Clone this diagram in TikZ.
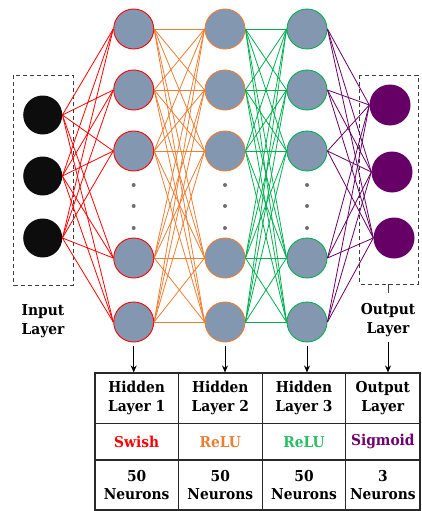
\documentclass[tikz,border=0pt]{standalone}
\usepackage{fontspec}
\setmainfont{DejaVu Serif}[FakeStretch=0.92]
\usetikzlibrary{arrows.meta}
\definecolor{nodegray}{RGB}{132,151,176}
\definecolor{cred}{RGB}{255,0,0}
\definecolor{corange}{RGB}{237,125,49}
\definecolor{cgreen}{RGB}{0,176,80}
\definecolor{ctgreen}{RGB}{40,190,100}
\definecolor{cpurple}{RGB}{102,0,102}
\definecolor{ctpurple}{RGB}{112,0,112}
\definecolor{cblack}{RGB}{13,13,13}
\definecolor{dotgray}{RGB}{110,110,120}
\definecolor{boxgray}{RGB}{60,60,60}
\definecolor{gridgray}{RGB}{40,40,40}
\tikzset{
  neuron/.style={circle,minimum size=40pt,inner sep=0pt,fill=nodegray,line width=0.9pt},
  inneuron/.style={circle,minimum size=39pt,inner sep=0pt,fill=cblack},
  outneuron/.style={circle,minimum size=41pt,inner sep=0pt,fill=cpurple},
  edge/.style={line width=0.8pt},
  dotnode/.style={circle,minimum size=4pt,inner sep=0pt,fill=dotgray},
  layerbox/.style={draw=boxgray,dashed,dash pattern=on 4pt off 3pt,line width=1pt},
  lbl/.style={align=center,font=\bfseries\fontsize{15}{18.5}\selectfont,inner sep=0pt},
  cell/.style={draw=gridgray,line width=1.1pt,rectangle,inner sep=0pt,align=center,font=\bfseries\fontsize{15}{18.5}\selectfont},
  arr/.style={-{Stealth[length=7pt,width=6pt]},line width=0.9pt,black}
}
\begin{document}
\begin{tikzpicture}[x=1pt,y=-1pt]
\useasboundingbox (0,0) rectangle (421,511);
% dashed boxes
\draw[layerbox] (13.7,75) rectangle (73,285);
\draw[layerbox] (359.7,75) rectangle (418,284);
% input nodes
\node[inneuron] (i1) at (42.7,115) {};
\node[inneuron] (i2) at (42.7,176) {};
\node[inneuron] (i3) at (42.7,238) {};
% hidden nodes
\foreach \c/\x/\col in {1/133.7/cred,2/225/corange,3/307/cgreen}{
  \foreach \r/\y in {1/29,2/90,3/151,4/258,5/322}{
    \node[neuron,draw=\col] (h\c-\r) at (\x,\y) {};
  }
  \foreach \d/\y in {1/185,2/206,3/228}{
    \node[dotnode] (d\c-\d) at (\x,\y) {};
  }
}
% output nodes
\node[outneuron] (o1) at (390,105) {};
\node[outneuron] (o2) at (392,172) {};
\node[outneuron] (o3) at (394,238) {};
% edges
\foreach \i in {1,2,3}{\foreach \j in {1,...,5}{\draw[edge,cred] (i\i.east) -- (h1-\j.west);}}
\foreach \i in {1,...,5}{\foreach \j in {1,...,5}{
  \draw[edge,corange] (h1-\i.east) -- (h2-\j.west);
  \draw[edge,cgreen] (h2-\i.east) -- (h3-\j.west);}}
\foreach \i in {1,...,5}{\foreach \j in {1,2,3}{\draw[edge,cpurple] (h3-\i.east) -- (o\j.west);}}
% layer labels
\node[lbl] (inlbl) at (43,321) {Input\\Layer};
\node[lbl] (outlbl) at (388,320) {Output\\Layer};
\coordinate (obox) at (388,284);
\draw[line width=0.9pt,boxgray] (obox) -- (388,293);
% table
\node[cell,minimum width=83.3pt,minimum height=50.3pt] (c11) at (136.65,398.15) {Hidden\\Layer 1};
\node[cell,minimum width=84pt,minimum height=50.3pt] (c12) at (220.3,398.15) {Hidden\\Layer 2};
\node[cell,minimum width=83.4pt,minimum height=50.3pt] (c13) at (304,398.15) {Hidden\\Layer 3};
\node[cell,minimum width=74.3pt,minimum height=50.3pt] (c14) at (382.85,398.15) {Output\\Layer};
\node[cell,minimum width=83.3pt,minimum height=36.7pt,text=cred] (c21) at (136.65,441.65) {Swish};
\node[cell,minimum width=84pt,minimum height=36.7pt,text=corange] (c22) at (220.3,441.65) {ReLU};
\node[cell,minimum width=83.4pt,minimum height=36.7pt,text=ctgreen] (c23) at (304,441.65) {ReLU};
\node[cell,minimum width=74.3pt,minimum height=36.7pt,text=ctpurple] (c24) at (382.85,441.65) {Sigmoid};
\node[cell,minimum width=83.3pt,minimum height=50pt] (c31) at (136.65,485) {50\\Neurons};
\node[cell,minimum width=84pt,minimum height=50pt] (c32) at (220.3,485) {50\\Neurons};
\node[cell,minimum width=83.4pt,minimum height=50pt] (c33) at (304,485) {50\\Neurons};
\node[cell,minimum width=74.3pt,minimum height=50pt] (c34) at (382.85,485) {3\\Neurons};
% arrows
\draw[arr] ([yshift=-4pt]h1-5.south) -- (h1-5.south |- c11.north);
\draw[arr] ([yshift=-4pt]h2-5.south) -- (h2-5.south |- c12.north);
\draw[arr] ([yshift=-4pt]h3-5.south) -- (h3-5.south |- c13.north);
\draw[arr] ([yshift=-5pt]outlbl.south) -- (outlbl.south |- c14.north);
\end{tikzpicture}
\end{document}
